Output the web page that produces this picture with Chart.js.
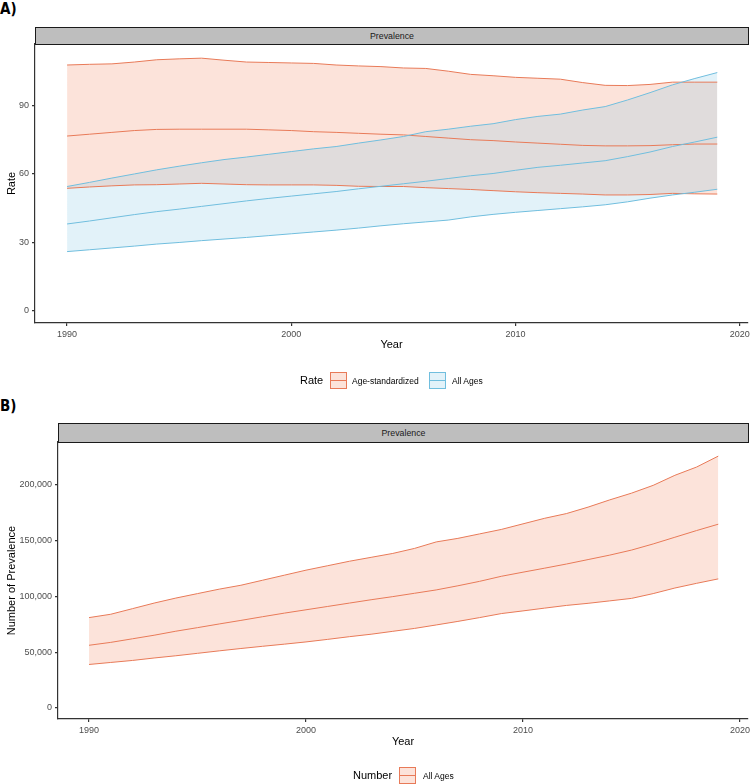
<!DOCTYPE html>
<html><head><meta charset="utf-8">
<script src="https://cdn.jsdelivr.net/npm/chart.js@4.4.0/dist/chart.umd.min.js"></script>
<style>
body{margin:0;width:750px;height:784px;position:relative;background:#fff;overflow:hidden;font-family:"Liberation Sans",Arial,sans-serif;}
.abs{position:absolute;white-space:nowrap;}
canvas{position:absolute;left:0;}
.plabel{font-family:"Liberation Sans Narrow","DejaVu Sans Condensed",sans-serif;font-weight:bold;font-size:15px;color:#000;line-height:1;}
.strip{box-sizing:border-box;background:#bebebe;border:1px solid #1a1a1a;font-size:8.8px;color:#1a1a1a;display:flex;align-items:center;justify-content:center;}
.ltitle{font-size:11px;color:#000;line-height:1;}
.ltext{font-size:8.5px;color:#000;line-height:1;}
.key{box-sizing:border-box;width:17px;height:17px;}
.key div{position:absolute;left:0;right:0;top:7px;height:1px;}
</style></head>
<body>
<div class="abs plabel" style="left:0;top:2px;">A)</div>
<div class="abs strip" style="left:35px;top:27px;width:714px;height:18px;">Prevalence</div>
<div class="abs plabel" style="left:0;top:399px;">B)</div>
<div class="abs strip" style="left:58px;top:423px;width:691px;height:20px;">Prevalence</div>

<canvas id="cA" width="750" height="392" style="top:0"></canvas>
<canvas id="cB" width="750" height="392" style="top:392px"></canvas>

<div class="abs ltitle" style="left:300px;top:375px;">Rate</div>
<div class="abs key" id="kA1" style="left:330px;top:372px;"><div></div></div>
<div class="abs ltext" style="left:352px;top:377px;">Age-standardized</div>
<div class="abs key" id="kA2" style="left:429px;top:372px;"><div></div></div>
<div class="abs ltext" style="left:452px;top:377px;">All Ages</div>

<div class="abs ltitle" style="left:353px;top:770px;">Number</div>
<div class="abs key" id="kB1" style="left:399px;top:767px;"><div></div></div>
<div class="abs ltext" style="left:423px;top:772px;">All Ages</div>

<script>
// ---- data ----
const years = [1990,1991,1992,1993,1994,1995,1996,1997,1998,1999,2000,2001,2002,2003,2004,2005,2006,2007,2008,2009,2010,2011,2012,2013,2014,2015,2016,2017,2018,2019];
const xTicks = [1990,2000,2010,2020];
const rateTicks = [0,30,60,90];
const numberTicks = [0,50000,100000,150000,200000];

const ageStdUpper = [107.7,108.0,108.2,109.0,110.0,110.4,110.7,109.8,109.0,108.8,108.6,108.4,107.7,107.3,107.0,106.4,106.2,105.0,103.6,103.0,102.3,101.9,101.5,100.0,98.8,98.7,99.2,100.2,100.2,100.2];
const ageStdMean  = [76.6,77.4,78.2,79.0,79.5,79.6,79.6,79.6,79.6,79.3,79.0,78.5,78.2,77.8,77.4,77.1,76.4,75.7,75.0,74.6,74.0,73.5,73.0,72.5,72.3,72.3,72.4,72.8,73.1,73.1];
const ageStdLower = [53.7,54.3,54.8,55.2,55.3,55.6,55.9,55.6,55.3,55.2,55.2,55.2,55.0,54.6,54.5,54.5,54.0,53.6,53.2,52.7,52.2,51.8,51.5,51.2,50.8,50.8,51.0,51.5,51.3,51.2];

const allAgesUpper = [54.5,56.3,58.2,60.0,61.8,63.4,64.9,66.3,67.4,68.6,69.8,71.0,72.0,73.5,74.9,76.4,78.5,79.6,80.9,82.0,83.8,85.2,86.2,88.0,89.5,92.4,95.6,99.0,101.8,104.4];
const allAgesMean  = [38.1,39.4,40.8,42.2,43.5,44.6,45.8,47.0,48.2,49.3,50.3,51.3,52.3,53.5,54.6,55.7,56.8,58.0,59.2,60.2,61.6,62.9,63.8,64.8,65.8,67.6,69.6,72.0,74.0,76.1];
const allAgesLower = [26.0,26.8,27.6,28.4,29.3,30.0,30.8,31.5,32.2,33.0,33.8,34.6,35.4,36.3,37.3,38.2,39.0,39.8,41.2,42.3,43.2,44.0,44.8,45.6,46.5,47.8,49.4,50.8,52.0,53.3];

const numberUpper = [81000,84000,89000,94000,98500,102500,106500,110000,114500,119000,123500,127500,131500,135000,138500,143000,148800,152000,156000,160000,165000,170000,174200,180000,186500,192500,199500,208500,215900,225700];
const numberMean  = [56200,58800,62000,65200,68800,72000,75300,78500,81800,85000,88000,91000,94000,97000,99800,102800,105800,109500,113500,118000,121700,125300,129000,133000,137000,141500,147000,153000,159000,164700];
const numberLower = [39000,40800,42600,44800,46800,49000,51200,53300,55300,57200,59200,61500,63900,66100,68700,71300,74400,77600,81000,84600,87000,89500,91900,93800,96000,98200,102500,107500,111700,115700];

// ---- styles ----
const orangeLine = 'rgb(232,122,88)';
const orangeFill = 'rgba(240,115,70,0.2)';
const blueLine = 'rgb(112,190,222)';
const blueFill = 'rgba(110,190,225,0.2)';

function keyStyle(id, line, fill){
  const k = document.getElementById(id);
  k.style.border = '1px solid ' + line;
  k.style.background = fill;
  k.firstElementChild.style.background = line;
}
keyStyle('kA1', orangeLine, orangeFill);
keyStyle('kA2', blueLine, blueFill);
keyStyle('kB1', orangeLine, orangeFill);

Chart.defaults.font.family = '"Liberation Sans", Arial, sans-serif';

const pts = arr => years.map((y,i)=>({x:y, y:arr[i]}));
function ds(arr, line, fillTarget, fillColor){
  return {data: pts(arr), borderColor: line, borderWidth: 1, pointRadius: 0,
    tension: 0, fill: fillTarget === undefined ? false : fillTarget,
    backgroundColor: fillColor || 'transparent'};
}

function makeChart(id, datasets, cfg){
  new Chart(document.getElementById(id), {
    type: 'line',
    data: {datasets},
    options: {
      responsive: false, animation: false, devicePixelRatio: 1,
      layout: {padding: {left: 0, right: 2, top: cfg.padTop, bottom: cfg.padBottom}},
      plugins: {legend: {display: false}, tooltip: {enabled: false},
        filler: {drawTime: 'beforeDatasetsDraw'}},
      scales: {
        x: {
          type: 'linear', min: 1988.57, max: 2020.37,
          afterBuildTicks: s => { s.ticks = xTicks.map(v => ({value: v})); },
          afterFit: s => { s.height = cfg.xHeight; s.paddingLeft = 0; s.paddingRight = 0; },
          border: {display: true, color: '#333', width: 1.2},
          grid: {display: true, drawOnChartArea: false, drawTicks: true, tickLength: 3, color: '#333', lineWidth: 1.2},
          ticks: {color: '#4d4d4d', font: {size: 9}, padding: 3, maxRotation: 0,
            callback: v => String(v)},
          title: {display: true, text: 'Year', color: '#000', font: {size: 11}, padding: {top: 0, bottom: 3}}
        },
        y: {
          type: 'linear', min: cfg.yMin, max: cfg.yMax,
          afterBuildTicks: s => { s.ticks = cfg.yTicks.map(v => ({value: v})); },
          afterFit: s => { s.width = cfg.yWidth; s.paddingTop = 0; s.paddingBottom = 0; },
          border: {display: true, color: '#333', width: 1.2},
          grid: {display: true, drawOnChartArea: false, drawTicks: true, tickLength: 3, color: '#333', lineWidth: 1.2},
          ticks: {color: '#4d4d4d', font: {size: 9}, padding: 3,
            callback: v => v.toLocaleString('en-US')},
          title: {display: true, text: cfg.yTitle, color: '#000', font: {size: 11}, padding: {top: 5, bottom: 0}}
        }
      }
    }
  });
}

makeChart('cA', [
  ds(allAgesUpper, blueLine, 2, blueFill),
  ds(allAgesMean, blueLine),
  ds(allAgesLower, blueLine),
  ds(ageStdUpper, orangeLine, 5, orangeFill),
  ds(ageStdMean, orangeLine),
  ds(ageStdLower, orangeLine)
], {padTop: 44, padBottom: 37, xHeight: 32, yWidth: 35, yMin: -5.26, yMax: 116.9, yTicks: rateTicks, yTitle: 'Rate'});

makeChart('cB', [
  ds(numberUpper, orangeLine, 2, orangeFill),
  ds(numberMean, orangeLine),
  ds(numberLower, orangeLine)
], {padTop: 50, padBottom: 32, xHeight: 33, yWidth: 58, yMin: -9860, yMax: 238350, yTicks: numberTicks, yTitle: 'Number of Prevalence'});
</script>
</body></html>
